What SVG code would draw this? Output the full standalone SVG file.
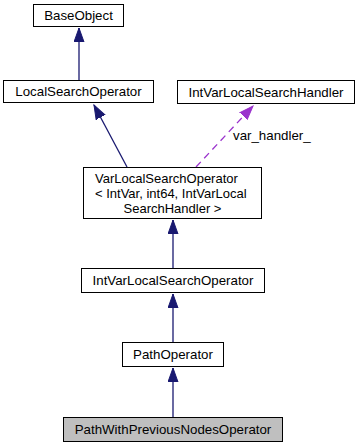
<svg xmlns="http://www.w3.org/2000/svg" width="360" height="448" viewBox="0 0 360 448">
<style>
  .box { fill: #ffffff; stroke: #000000; stroke-width: 1; }
  .cur { fill: #bfbfbf; stroke: #000000; stroke-width: 1; }
  text { font-family: "Liberation Sans", Arial, sans-serif; font-size: 13.3px; fill: #000000; }
  .mid { text-anchor: middle; }
  .ml { font-size: 13px; }
  .inh { stroke: #191970; stroke-width: 1.3; fill: none; }
  .use { stroke: #9a32cd; stroke-width: 1.3; fill: none; stroke-dasharray: 7,5; }
</style>
<defs>
  <marker id="ah-inh" markerWidth="16" markerHeight="12" refX="14" refY="5.5" orient="auto" markerUnits="userSpaceOnUse">
    <path d="M0,0.5 L14,5.5 L0,10.5 Z" fill="#191970" stroke="#191970"/>
  </marker>
  <marker id="ah-use" markerWidth="16" markerHeight="12" refX="14" refY="5.5" orient="auto" markerUnits="userSpaceOnUse">
    <path d="M0,0.5 L14,5.5 L0,10.5 Z" fill="#9a32cd" stroke="#9a32cd"/>
  </marker>
</defs>
<rect width="360" height="448" fill="#ffffff"/>
<g id="connectors">
  <path class="inh" d="M79,80 L79,28" marker-end="url(#ah-inh)"/>
  <path class="inh" d="M127,167 L94,105" marker-end="url(#ah-inh)"/>
  <path class="use" d="M196,167 L253,106" marker-end="url(#ah-use)"/>
  <text x="233" y="140">var_handler_</text>
  <path class="inh" d="M173,268 L173,220" marker-end="url(#ah-inh)"/>
  <path class="inh" d="M173,342 L173,294" marker-end="url(#ah-inh)"/>
  <path class="inh" d="M173,417 L173,368" marker-end="url(#ah-inh)"/>
</g>
<g id="node-BaseObject">
  <rect class="box" x="33.5" y="4.5" width="90" height="22"/>
  <text class="mid" x="78.5" y="20">BaseObject</text>
</g>
<g id="node-LocalSearchOperator">
  <rect class="box" x="3.5" y="80.5" width="150" height="22"/>
  <text class="mid" x="78.5" y="96">LocalSearchOperator</text>
</g>
<g id="node-IntVarLocalSearchHandler">
  <rect class="box" x="177.5" y="80.5" width="177" height="23"/>
  <text class="mid" x="266" y="96.5">IntVarLocalSearchHandler</text>
</g>
<g id="node-VarLocalSearchOperator">
  <rect class="box" x="83.5" y="167.5" width="178" height="51"/>
  <text class="ml" x="95" y="183">VarLocalSearchOperator</text>
  <text class="ml" x="95" y="198">&lt; IntVar, int64, IntVarLocal</text>
  <text class="ml mid" x="172.5" y="213">SearchHandler &gt;</text>
</g>
<g id="node-IntVarLocalSearchOperator">
  <rect class="box" x="81.5" y="268.5" width="183" height="24"/>
  <text class="mid" x="173" y="285">IntVarLocalSearchOperator</text>
</g>
<g id="node-PathOperator">
  <rect class="box" x="122.5" y="342.5" width="101" height="24"/>
  <text class="mid" x="173" y="359">PathOperator</text>
</g>
<g id="node-PathWithPreviousNodesOperator">
  <rect class="cur" x="63.5" y="417.5" width="219" height="24"/>
  <text class="mid" x="173" y="434">PathWithPreviousNodesOperator</text>
</g>
</svg>
